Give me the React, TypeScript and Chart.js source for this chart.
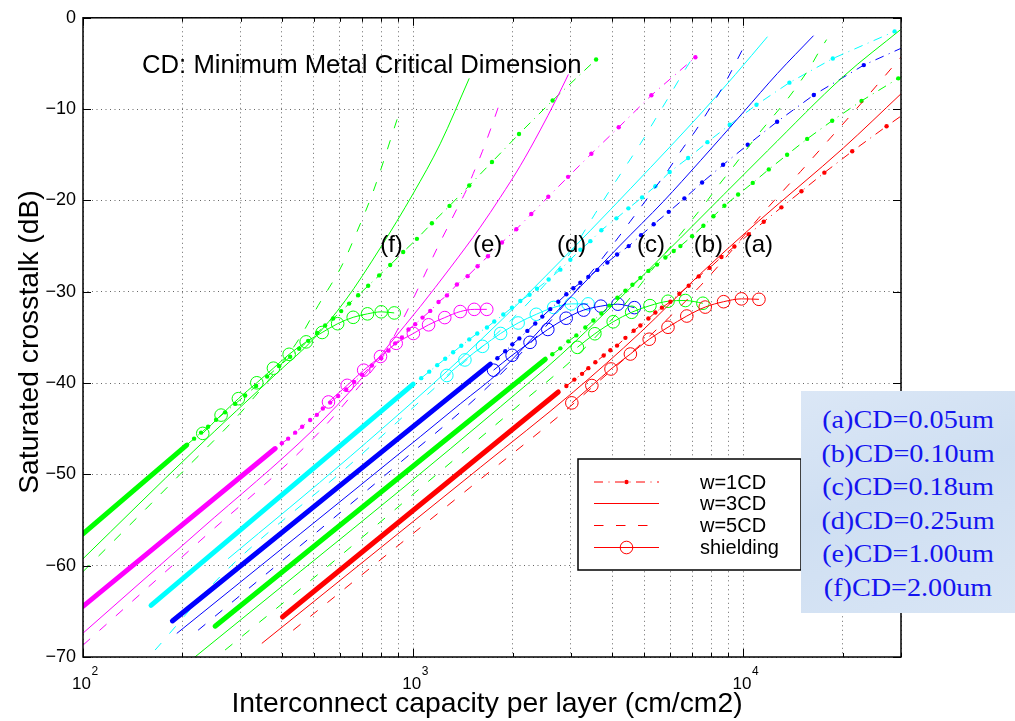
import React, { useEffect, useRef } from 'react';
import { Chart, registerables } from 'chart.js';

Chart.register(...registerables);

type P = [number, number];

// ---------- axes ----------
const xTickValues = [100, 200, 300, 400, 500, 600, 700, 800, 900, 1000, 2000, 3000, 4000, 5000, 6000, 7000, 8000, 9000, 10000, 20000, 30000];
const xMajorValues = [100, 1000, 10000];
const xMajorExponents = ['2', '3', '4'];
const yTickValues = [0, -10, -20, -30, -40, -50, -60, -70];

// ---------- (f) CD = 2.00um ----------
const f_w1_thick: P[] = [[100, -56.52], [205.2, -46.85]];
const f_w1: P[] = [[206.7, -46.74], [217.0, -46.09], [227.8, -45.43], [239.2, -44.78], [253.0, -44.02], [269.3, -43.21], [288.9, -42.28], [309.7, -41.36], [334.4, -40.33], [361.1, -39.29], [392.6, -38.15], [424.0, -37.12], [451.5, -36.25], [480.7, -35.38], [511.8, -34.51], [541.2, -33.70], [572.3, -32.93], [605.1, -32.12], [639.8, -31.30], [681.3, -30.38], [730.5, -29.35], [788.7, -28.21], [851.6, -27.07], [932.5, -25.65], [1026, -24.21], [1139, -22.50], [1288, -20.60], [1478, -18.37], [1732, -15.79], [2091, -12.72], [2643, -9.05], [3579, -4.57]];
const f_w3: P[] = [[100, -59.24], [215.5, -47.5], [395.4, -38.59], [494.3, -35.33], [622.2, -30.98], [794.3, -25.22], [1000, -19.24], [1207, -13.8], [1478, -6.63]];
const f_w5: P[] = [[100, -60.65], [196.8, -50.0], [320.7, -42.07], [442.1, -35.65], [515.3, -31.52], [609.2, -27.07], [676.6, -23.37], [756.6, -19.02], [894.4, -11.09]];
const f_sh: P[] = [[230.5, -45.51], [261.9, -43.51], [295.5, -41.71], [336, -39.97], [377.3, -38.37], [421, -36.85], [474, -35.49], [530, -34.46], [590.4, -33.5], [658, -32.8], [727, -32.42], [800, -32.2], [875.8, -32.32]];

// ---------- (e) CD = 1.00um ----------
const e_w1_thick: P[] = [[100, -64.46], [381.8, -47.17]];
const e_w1: P[] = [[400.1, -46.60], [418.1, -46.09], [439.1, -45.43], [461.0, -44.78], [487.4, -44.05], [510.7, -43.48], [532.5, -42.79], [560.4, -42.14], [592.6, -41.41], [626.6, -40.71], [662.5, -39.89], [700.5, -39.08], [749.5, -38.08], [799.9, -37.28], [841.7, -36.45], [881.8, -35.65], [924.1, -35.00], [967.7, -34.13], [1014, -33.55], [1067, -32.83], [1126, -32.10], [1193, -31.12], [1265, -30.40], [1356, -29.21], [1461, -28.29], [1566, -27.21], [1684, -26.12], [1857, -24.60], [2052, -23.15], [2278, -21.49], [2565, -19.60], [2944, -17.42], [3463, -14.89], [4190, -11.99], [5263, -8.48], [7153, -4.32]];
const e_w3: P[] = [[100, -67.39], [226.2, -56.09], [497.8, -45.11], [690.8, -39.67], [851.6, -35.65], [1050, -31.63], [1294, -27.39], [1596, -22.93], [1835, -19.67], [2110, -16.2], [2426, -12.28], [2693, -9.13], [2950, -6.2]];
const e_w5: P[] = [[100, -68.7], [226.2, -57.28], [487.4, -46.41], [690.8, -40.22], [822.5, -36.63], [913.2, -33.59], [993, -30.98], [1072, -28.48], [1182, -25.22], [1276, -22.83], [1368, -20.65], [1447, -18.91], [1519, -17.07], [1618, -14.67], [1712, -12.28], [1810, -9.78]];
const e_sh: P[] = [[553.8, -42.07], [631, -40.25], [707.9, -38.59], [796, -37.09], [888, -35.65], [1001, -34.57], [1113, -33.62], [1246, -32.83], [1388, -32.17], [1530, -31.93], [1670, -31.93]];

// ---------- (d) CD = 0.25um ----------
const d_w1_thick: P[] = [[160.7, -64.35], [1000, -40.11]];
const d_w1: P[] = [[1057, -39.46], [1118, -38.75], [1182, -38.04], [1250, -37.34], [1321, -36.63], [1398, -35.92], [1478, -35.22], [1563, -34.57], [1672, -33.91], [1760, -33.26], [1874, -32.50], [1991, -31.74], [2110, -31.01], [2251, -30.33], [2370, -29.67], [2571, -28.66], [2790, -27.58], [2991, -26.49], [3207, -25.40], [3439, -24.46], [3713, -23.26], [4123, -21.96], [4483, -20.87], [4932, -19.67], [5412, -18.45], [5980, -16.88], [6799, -15.36], [7778, -13.62], [9087, -11.71], [10950, -9.53], [13780, -7.10], [18650, -4.46], [28690, -1.49]];
const d_w3: P[] = [[275.0, -59.24], [644.3, -48.04], [1596, -35.33], [2991, -25.54], [5226, -16.41], [7407, -10.54], [9456, -6.20], [11824, -2.07]];
const d_w5: P[] = [[165.3, -69.24], [265.6, -60.87], [644.3, -48.91], [1294, -39.02], [1835, -34.24], [2426, -29.78], [2991, -25.76], [3561, -21.41], [3954, -18.80], [4391, -16.30], [4874, -13.80], [5412, -11.09], [6009, -8.37], [6579, -5.98], [7054, -4.24]];
const d_sh: P[] = [[1264, -39.17], [1434, -37.47], [1621, -35.98], [1839, -34.57], [2078, -33.42], [2359, -32.47], [2663, -31.72], [3010, -31.33], [3384, -31.33]];

// ---------- (c) CD = 0.18um ----------
const c_w1_thick: P[] = [[186.5, -66.05], [1712, -37.93]];
const c_w1: P[] = [[1798, -37.28], [1900, -36.52], [1996, -35.76], [2096, -35.11], [2216, -34.29], [2342, -33.48], [2460, -32.72], [2601, -31.90], [2750, -31.09], [2909, -30.27], [3054, -29.62], [3207, -29.02], [3391, -28.37], [3611, -27.61], [3872, -26.79], [4143, -25.92], [4493, -25.00], [4898, -23.80], [5348, -22.61], [5939, -21.25], [6625, -19.78], [7495, -18.04], [8678, -16.09], [10305, -13.91], [12647, -11.38], [16332, -8.45], [23147, -5.18], [38199, -1.63]];
const c_w3: P[] = [[192.3, -67.42], [454.6, -56.52], [1050, -45.87], [1388, -42.28], [1835, -38.70], [2262, -35.33], [2601, -32.93], [3207, -29.46], [4240, -24.89], [5723, -20.11], [7407, -15.65], [10000, -10.33], [12675, -6.09], [16298, -1.96]];
const c_w5: P[] = [[223.1, -67.07], [454.6, -57.83], [913.2, -48.70], [1596, -41.20], [2426, -34.46], [2991, -30.65], [3765, -26.20], [4546, -22.28], [5299, -19.02], [5926, -16.63], [6534, -14.35], [7153, -12.39], [7778, -10.33], [8818, -7.07], [9931, -3.48]];
const c_sh: P[] = [[1751, -38.59], [1993, -36.96], [2258, -35.54], [2556, -34.13], [2905, -32.90], [3282, -32.01], [3700, -31.58], [4166, -31.36], [4675, -31.74]];

// ---------- (b) CD = 0.10um ----------
const b_w1_thick: P[] = [[251.2, -66.63], [2512, -37.39]];
const b_w1: P[] = [[2638, -36.85], [2790, -36.20], [2950, -35.43], [3119, -34.78], [3321, -33.91], [3512, -33.15], [3713, -32.39], [3926, -31.52], [4152, -30.65], [4391, -29.89], [4610, -29.24], [4874, -28.48], [5154, -27.72], [5476, -27.03], [5803, -26.25], [6149, -25.54], [6443, -25.00], [6990, -23.91], [7564, -22.77], [8111, -21.74], [8757, -20.58], [9636, -19.35], [10670, -18.08], [11932, -16.60], [13559, -15.00], [15591, -13.26], [18568, -11.27], [22778, -9.10], [29440, -6.63], [40941, -4.02]];
const b_w3: P[] = [[203.8, -70.87], [454.6, -60.65], [913.2, -51.74], [1835, -42.61], [2790, -36.96], [3954, -31.74], [6443, -24.13], [11824, -14.57], [20096, -6.41], [29910, -1.30]];
const b_w5: P[] = [[269.3, -69.24], [522.6, -60.76], [1050, -51.52], [2110, -42.28], [3207, -36.63], [4240, -31.96], [5374, -27.28], [6443, -23.70], [7778, -20.00], [8399, -18.37], [9325, -16.30], [10141, -14.57], [11103, -12.72], [12325, -10.76], [13588, -8.91], [14880, -6.96], [15960, -5.33], [16876, -3.80], [17853, -2.39]];
const b_sh: P[] = [[3141, -36.09], [3549, -34.60], [4032, -33.29], [4587, -32.25], [5211, -31.52], [5909, -31.04], [6672, -30.96], [7537, -31.26]];

// ---------- (a) CD = 0.05um ----------
const a_w1_thick: P[] = [[401.8, -65.62], [2750, -40.98]];
const a_w1: P[] = [[2909, -40.33], [3076, -39.62], [3245, -38.99], [3391, -38.37], [3561, -37.72], [3773, -36.99], [3954, -36.41], [4143, -35.90], [4391, -35.05], [4652, -34.27], [4874, -33.70], [5154, -32.93], [5412, -32.28], [5663, -31.74], [6009, -31.09], [6398, -30.22], [6828, -29.35], [7320, -28.32], [7903, -27.39], [8576, -26.20], [9390, -25.05], [10378, -23.70], [11522, -22.34], [13031, -20.76], [14984, -18.99], [17581, -16.96], [21351, -14.62], [27123, -11.88], [36873, -8.48]];
const a_w3: P[] = [[348.0, -68.51], [1596, -49.24], [3054, -40.98], [4874, -34.46], [7407, -28.04], [11103, -22.28], [20096, -14.24], [29910, -8.37], [34388, -6.30]];
const a_w5: P[] = [[433.0, -67.07], [913.2, -57.61], [1596, -50.54], [2790, -43.48], [3687, -39.67], [5226, -34.78], [7407, -29.35], [9132, -25.65], [11103, -21.96], [14880, -16.85], [18350, -13.15], [22620, -9.46], [29910, -4.35], [32073, -3.04]];
const a_sh: P[] = [[3022, -42.17], [3475, -40.27], [3971, -38.46], [4546, -36.82], [5183, -35.20], [5909, -33.89], [6737, -32.66], [7659, -31.68], [8708, -31.09], [9862, -30.78], [11142, -30.83]];

// ---------- texts ----------
const legendLabels = ['w=1CD', 'w=3CD', 'w=5CD', 'shielding'];
const cdLabels = ['(a)CD=0.05um', '(b)CD=0.10um', '(c)CD=0.18um', '(d)CD=0.25um', '(e)CD=1.00um', '(f)CD=2.00um'];
const familyTags = ['(f)', '(e)', '(d)', '(c)', '(b)', '(a)'];
const familyTagX = [794, 1516, 2725, 4763, 7069, 10021];
const familyTagY = -25.6;
const noteText = 'CD: Minimum Metal Critical Dimension';
const noteX = 150.9;
const noteY = -6.09;
const xTitle = 'Interconnect capacity per layer (cm/cm2)';
const yTitle = 'Saturated crosstalk (dB)';

const FONT = '"Liberation Sans", Arial, Helvetica, sans-serif';
const DASH_W1 = [9, 5.5, 1, 5.5];
const DASH_W5 = [9.5, 12.5];

const families = [
  { color: '#00ff00', thick: f_w1_thick, w1: f_w1, w3: f_w3, w5: f_w5, sh: f_sh },
  { color: '#ff00ff', thick: e_w1_thick, w1: e_w1, w3: e_w3, w5: e_w5, sh: e_sh },
  { color: '#00ffff', thick: d_w1_thick, w1: d_w1, w3: d_w3, w5: d_w5, sh: d_sh },
  { color: '#0000ff', thick: c_w1_thick, w1: c_w1, w3: c_w3, w5: c_w5, sh: c_sh },
  { color: '#00ff00', thick: b_w1_thick, w1: b_w1, w3: b_w3, w5: b_w5, sh: b_sh },
  { color: '#ff0000', thick: a_w1_thick, w1: a_w1, w3: a_w3, w5: a_w5, sh: a_sh },
];

const toXY = (arr: P[]) => arr.map(([x, y]) => ({ x, y }));

function buildDatasets() {
  const ds: any[] = [];
  families.forEach((f) => {
    ds.push({ data: toXY(f.w5), borderColor: f.color, borderWidth: 1, borderDash: DASH_W5, pointRadius: 0, cubicInterpolationMode: 'monotone', fill: false });
    ds.push({ data: toXY(f.w3), borderColor: f.color, borderWidth: 1, pointRadius: 0, cubicInterpolationMode: 'monotone', fill: false });
    ds.push({ data: toXY(f.thick), borderColor: f.color, borderWidth: 5, borderCapStyle: 'round', pointRadius: 0, fill: false });
    ds.push({ data: toXY(f.w1), borderColor: f.color, borderWidth: 1, borderDash: DASH_W1, pointRadius: 2.2, pointBackgroundColor: f.color, pointBorderColor: f.color, pointBorderWidth: 0, fill: false });
    ds.push({ data: toXY(f.sh), borderColor: f.color, borderWidth: 1, pointRadius: 6.3, pointBorderColor: f.color, pointBackgroundColor: 'rgba(0,0,0,0)', pointBorderWidth: 1, cubicInterpolationMode: 'monotone', fill: false });
  });
  // first dataset is drawn on top in Chart.js -> reverse so later families sit above
  return ds.reverse();
}

const framePlugin = {
  id: 'matlabFrame',
  afterDatasetsDraw(chart: any) {
    const { ctx, chartArea: ca, scales } = chart;
    const xs = scales.x;
    const ys = scales.y;
    ctx.save();

    // annotation texts
    ctx.fillStyle = '#000';
    ctx.textAlign = 'left';
    ctx.textBaseline = 'alphabetic';
    ctx.font = `25.7px ${FONT}`;
    ctx.fillText(noteText, xs.getPixelForValue(noteX), ys.getPixelForValue(noteY));
    ctx.font = `24px ${FONT}`;
    familyTags.forEach((t, i) => {
      ctx.fillText(t, xs.getPixelForValue(familyTagX[i]), ys.getPixelForValue(familyTagY));
    });

    // legend box
    const lx = 578, ly = 459, lw = 223, lh = 111;
    ctx.fillStyle = '#fff';
    ctx.fillRect(lx, ly, lw, lh);
    ctx.strokeStyle = '#000';
    ctx.lineWidth = 1.5;
    ctx.strokeRect(lx, ly, lw, lh);
    const rows = [482, 503.5, 525.5, 547.5];
    const s1 = 594, s2 = 659, sm = (s1 + s2) / 2;
    ctx.strokeStyle = '#ff0000';
    ctx.fillStyle = '#ff0000';
    ctx.lineWidth = 1;
    rows.forEach((ry, i) => {
      ctx.setLineDash(i === 0 ? DASH_W1 : i === 2 ? DASH_W5 : []);
      ctx.beginPath();
      ctx.moveTo(s1, ry);
      ctx.lineTo(s2, ry);
      ctx.stroke();
      ctx.setLineDash([]);
      if (i === 0) {
        ctx.beginPath();
        ctx.arc(sm, ry, 2.2, 0, Math.PI * 2);
        ctx.fill();
      }
      if (i === 3) {
        ctx.beginPath();
        ctx.arc(sm, ry, 6.3, 0, Math.PI * 2);
        ctx.stroke();
      }
    });
    ctx.fillStyle = '#000';
    ctx.font = `20px ${FONT}`;
    ctx.textBaseline = 'middle';
    legendLabels.forEach((t, i) => ctx.fillText(t, 700, rows[i] + 1));

    // axes box
    ctx.strokeStyle = '#000';
    ctx.lineWidth = 1.5;
    ctx.strokeRect(ca.left, ca.top, ca.right - ca.left, ca.bottom - ca.top);

    // inward ticks
    ctx.lineWidth = 1;
    ctx.beginPath();
    xTickValues.forEach((v) => {
      const px = Math.round(xs.getPixelForValue(v)) + 0.5;
      const len = xMajorValues.includes(v) ? 8 : 4;
      ctx.moveTo(px, ca.bottom);
      ctx.lineTo(px, ca.bottom - len);
      ctx.moveTo(px, ca.top);
      ctx.lineTo(px, ca.top + len);
    });
    yTickValues.forEach((v) => {
      const py = Math.round(ys.getPixelForValue(v)) + 0.5;
      ctx.moveTo(ca.left, py);
      ctx.lineTo(ca.left + 8, py);
      ctx.moveTo(ca.right, py);
      ctx.lineTo(ca.right - 8, py);
    });
    ctx.stroke();

    // x tick labels 10^n
    ctx.fillStyle = '#000';
    ctx.textBaseline = 'alphabetic';
    xMajorValues.forEach((v, i) => {
      const px = xs.getPixelForValue(v);
      ctx.font = `17px ${FONT}`;
      ctx.textAlign = 'right';
      ctx.fillText('10', px + 8, ca.bottom + 32);
      ctx.font = `12px ${FONT}`;
      ctx.textAlign = 'left';
      ctx.fillText(xMajorExponents[i], px + 8.5, ca.bottom + 18);
    });

    // axis titles
    ctx.font = `28.3px ${FONT}`;
    ctx.textAlign = 'center';
    ctx.textBaseline = 'alphabetic';
    ctx.fillText(xTitle, 487, 712);
    ctx.translate(30, 342);
    ctx.rotate(-Math.PI / 2);
    ctx.textBaseline = 'middle';
    ctx.fillText(yTitle, 0, 0);
    ctx.restore();
  },
};

export default function App() {
  const ref = useRef<HTMLCanvasElement>(null);
  useEffect(() => {
    if (!ref.current) return;
    const gridCfg = { color: 'rgba(0,0,0,0.6)', lineWidth: 1, drawTicks: false };
    const chart = new Chart(ref.current, {
      type: 'line',
      data: { datasets: buildDatasets() },
      options: {
        responsive: false,
        maintainAspectRatio: false,
        animation: false,
        devicePixelRatio: 1,
        events: [],
        layout: { padding: { left: 0, top: 13, right: 114, bottom: 0 } },
        plugins: { legend: { display: false }, tooltip: { enabled: false }, title: { display: false } },
        scales: {
          x: {
            type: 'logarithmic',
            min: 100,
            max: 30000,
            position: 'bottom',
            afterBuildTicks: (s: any) => { s.ticks = xTickValues.map((v) => ({ value: v })); },
            afterFit: (s: any) => { s.height = 64; },
            ticks: { display: false },
            grid: gridCfg,
            border: { display: false, dash: [1, 3.5] },
          },
          y: {
            type: 'linear',
            min: -70,
            max: 0,
            afterBuildTicks: (s: any) => { s.ticks = yTickValues.map((v) => ({ value: v })); },
            afterFit: (s: any) => { s.width = 83; },
            ticks: {
              font: { family: FONT, size: 18 },
              color: '#000',
              padding: 7,
              callback: (v: any) => (Number(v) === 0 ? '0' : '\u2212' + Math.abs(Number(v))),
            },
            grid: gridCfg,
            border: { display: false, dash: [1, 3.5] },
          },
        },
      } as any,
      plugins: [framePlugin],
    } as any);
    return () => chart.destroy();
  }, []);

  return (
    <div style={{ position: 'fixed', left: 0, top: 0, width: 1015, height: 721, background: '#fff', overflow: 'hidden' }}>
      <canvas ref={ref} width={1015} height={721} style={{ position: 'absolute', left: 0, top: 0, width: 1015, height: 721 }} />
      <div
        style={{
          position: 'absolute',
          left: 801,
          top: 391,
          width: 214,
          height: 222,
          overflow: 'hidden',
          background: 'linear-gradient(160deg, #dbe7f6 0%, #cfdff2 45%, #d8e5f5 100%)',
        }}
      >
        <div
          style={{
            paddingTop: 12,
            transform: 'scaleX(1.105)',
            transformOrigin: '50% 0',
            textAlign: 'center',
            fontFamily: '"Liberation Serif", "Times New Roman", serif',
            fontSize: 25.5,
            lineHeight: '33.5px',
            color: '#1414f0',
            whiteSpace: 'nowrap',
          }}
        >
          {cdLabels.map((t) => (
            <div key={t}>{t}</div>
          ))}
        </div>
      </div>
    </div>
  );
}
